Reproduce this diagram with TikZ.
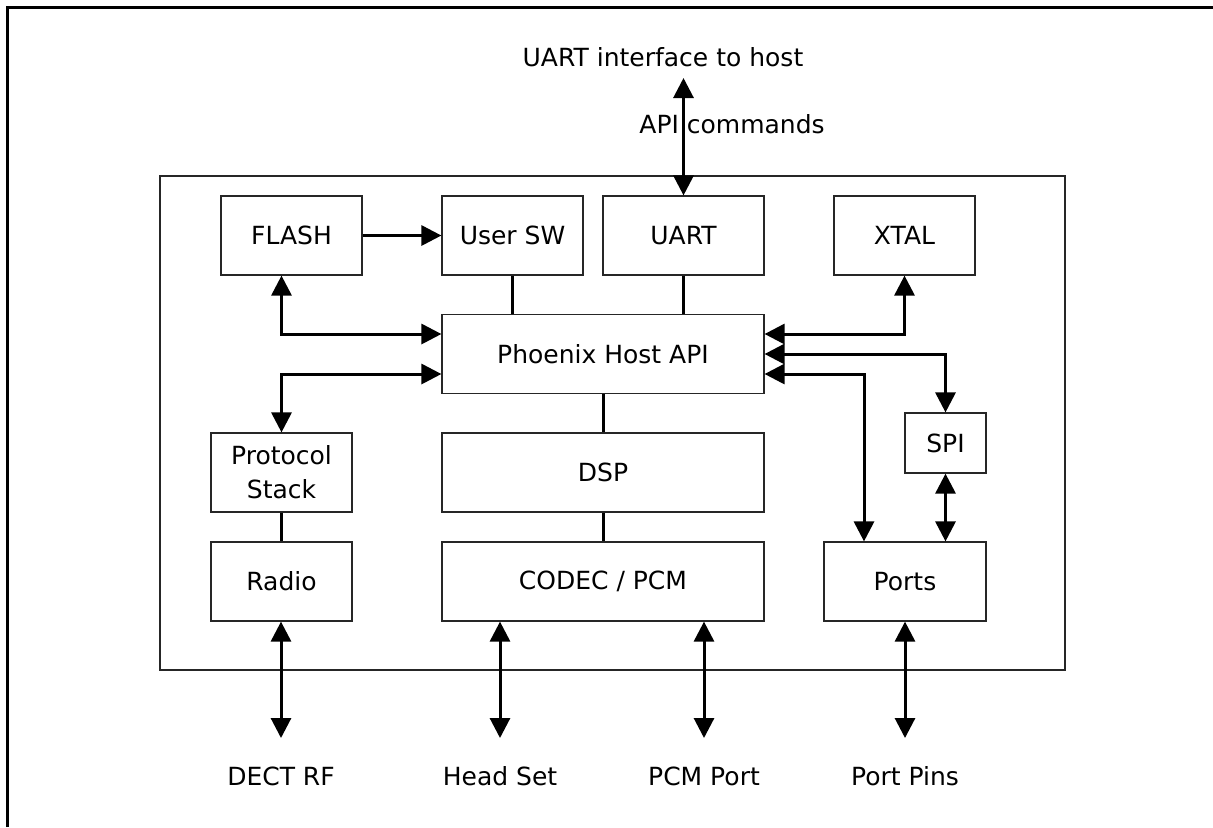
\documentclass[tikz,border=0pt]{standalone}
\usepackage{fontspec}
\setmainfont{DejaVu Sans}
\usetikzlibrary{
    calc,
    arrows.meta
}
\tikzset{
    block/.style={draw=black!85, line width=0.6pt, inner sep=0pt, align=center,
        minimum height=39.5pt},
    link/.style={line width=1.5pt},
    twoway/.style={link, {Triangle[length=10pt,width=10pt]}-{Triangle[length=10pt,width=10pt]}},
    oneway/.style={link, -{Triangle[length=10pt,width=10pt]}},
    pinlabel/.style={inner sep=0pt}
}

\begin{document}
\begin{tikzpicture}[x=0.5pt, y=-0.5pt, font=\fontsize{12.5pt}{17pt}\selectfont]
    \useasboundingbox (0,0) rectangle (1213,827);
    \draw[line width=1.5pt] (7,827) -- (7,7) -- (1213,7);

    % chip outline
    \draw[draw=black!85, line width=0.6pt] (160,176) rectangle (1065,670);

    \node[block, minimum width=70.5pt] (flash)  at (291.5,235.5) {FLASH};
    \node[block, minimum width=70.5pt] (usersw) at (512.5,235.5) {User SW};
    \node[block, minimum width=80.5pt] (uart)   at (683.5,235.5) {UART};
    \node[block, minimum width=70.5pt] (xtal)   at (904.5,235.5) {XTAL};
    \node[block, minimum width=161pt]  (api)    at (603,354)     {Phoenix Host API};
    \node[block, minimum width=70.5pt] (stack)  at (281.5,472.5) {Protocol\\Stack};
    \node[block, minimum width=161pt]  (dsp)    at (603,472.5)   {DSP};
    \node[block, minimum width=40.5pt, minimum height=30pt] (spi) at (945.5,443) {SPI};
    \node[block, minimum width=70.5pt] (radio)  at (281.5,581.5) {Radio};
    \node[block, minimum width=161pt]  (codec)  at (603,581.5)   {CODEC / PCM};
    \node[block, minimum width=81pt]   (ports)  at (905,581.5)   {Ports};

    % host side
    \coordinate (host) at (683.5,78);
    \node[pinlabel] (hostlbl) at (663,57) {UART interface to host};
    \node[pinlabel, anchor=west] (apilbl) at (639,124) {API commands};
    \draw[twoway] (host) -- (uart.north);

    % internal links
    \draw[oneway] (flash) -- (usersw);
    \draw[link] (usersw.south) -- (usersw.south |- api.north);
    \draw[link] (uart.south) -- (uart.south |- api.north);
    \draw[link] (api.south) -- (dsp.north);
    \draw[link] (dsp.south) -- (codec.north);
    \draw[link] (stack.south) -- (radio.north);

    \draw[twoway] (stack.north |- flash.south) |- ($(api.west)+(0,-20)$);
    \draw[twoway] ($(api.west)+(0,20)$) -| (stack.north);
    \draw[twoway] (xtal.south) |- ($(api.east)+(0,-20)$);
    \draw[twoway] (api.east) -| (spi.north);
    \draw[twoway] ($(api.east)+(0,20)$) -| ($(ports.north)+(-41,0)$);
    \draw[twoway] (spi.south) -- (spi.south |- ports.north);

    % external pins
    \foreach \src/\x/\lbl [count=\i] in {radio/281/DECT RF, codec/500/Head Set, codec/704/PCM Port, ports/905/Port Pins} {
        \coordinate (pin\i) at (\x,738);
        \node[pinlabel] (pinlbl\i) at (\x,776) {\lbl};
        \draw[twoway] (pin\i |- \src.south) -- (pin\i);
    }
\end{tikzpicture}
\end{document}
